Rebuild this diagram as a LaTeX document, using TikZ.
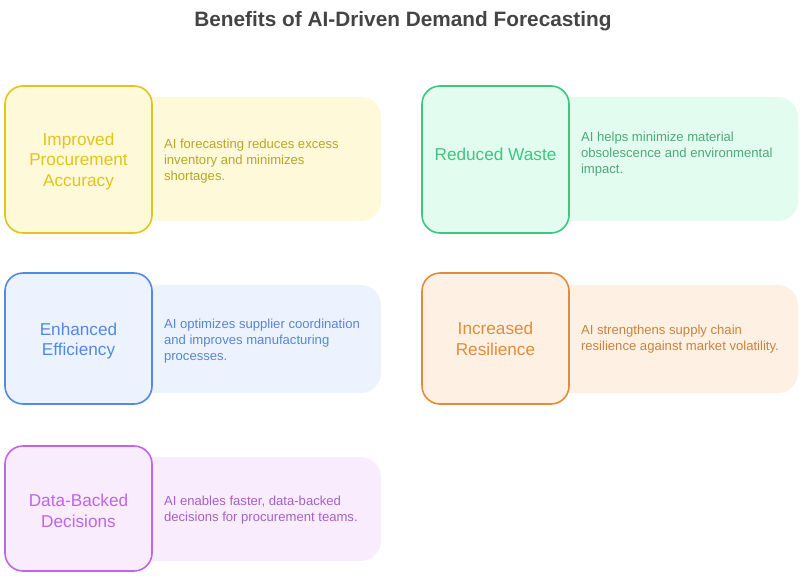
\documentclass[tikz,border=0pt]{standalone}
\usepackage{fontspec}
\setmainfont{Liberation Sans}
\definecolor{yB}{HTML}{E2C41C}\definecolor{yF}{HTML}{FEF9D8}\definecolor{yT}{HTML}{B9A52E}
\definecolor{gB}{HTML}{3EC57F}\definecolor{gF}{HTML}{E2FCEF}\definecolor{gT}{HTML}{4BAA7B}
\definecolor{bB}{HTML}{4F8AE6}\definecolor{bF}{HTML}{EDF3FE}\definecolor{bT}{HTML}{5686D6}
\definecolor{oB}{HTML}{E48B3B}\definecolor{oF}{HTML}{FEF1E4}\definecolor{oT}{HTML}{C9823F}
\definecolor{pB}{HTML}{C064E8}\definecolor{pF}{HTML}{F9EDFD}\definecolor{pT}{HTML}{A95EC9}
\definecolor{titleC}{HTML}{444444}
\tikzset{
  backbox/.style={rounded corners=20pt, draw=none},
  frontbox/.style={rounded corners=18pt, line width=1.6pt},
  frontlabel/.style={align=center, font=\fontsize{17.2}{20.7}\selectfont},
  desclabel/.style={align=left, anchor=west, font=\fontsize{13.1}{16}\selectfont},
}
\begin{document}
\begin{tikzpicture}[x=1pt,y=-1pt]
\useasboundingbox (0,0) rectangle (806,581);
\node[font=\bfseries\fontsize{20.8}{24}\selectfont, text=titleC] (title) at (403,21) {Benefits of AI-Driven Demand Forecasting};
% card 1
\fill[yF, backbox] (130,97) rectangle (381,221);
\draw[yB, fill=yF, frontbox] (5,86) rectangle (152,233);
\node[frontlabel, text=yB] (f1) at (78.5,161.5) {Improved\\Procurement\\Accuracy};
\node[desclabel, text=yT] (d1) at (160.5,161.5) {AI forecasting reduces excess\\inventory and minimizes\\shortages.};
% card 2
\fill[gF, backbox] (547,97) rectangle (798,221);
\draw[gB, fill=gF, frontbox] (422,86) rectangle (569,233);
\node[frontlabel, text=gB] (f2) at (495.5,154) {Reduced Waste};
\node[desclabel, text=gT] (d2) at (577.5,154) {AI helps minimize material\\obsolescence and environmental\\impact.};
% card 3
\fill[bF, backbox] (130,285) rectangle (381,393);
\draw[bB, fill=bF, frontbox] (5,273) rectangle (152,404);
\node[frontlabel, text=bB] (f3) at (78.5,341) {Enhanced\\Efficiency};
\node[desclabel, text=bT] (d3) at (160.5,341) {AI optimizes supplier coordination\\and improves manufacturing\\processes.};
% card 4
\fill[oF, backbox] (547,285) rectangle (798,393);
\draw[oB, fill=oF, frontbox] (422,273) rectangle (569,404);
\node[frontlabel, text=oB] (f4) at (495.5,339) {Increased\\Resilience};
\node[desclabel, text=oT] (d4) at (577.5,339) {AI strengthens supply chain\\resilience against market volatility.};
% card 5
\fill[pF, backbox] (130,457) rectangle (381,561);
\draw[pB, fill=pF, frontbox] (5,446) rectangle (152,571);
\node[frontlabel, text=pB] (f5) at (78.5,511) {Data-Backed\\Decisions};
\node[desclabel, text=pT] (d5) at (160.5,510) {AI enables faster, data-backed\\decisions for procurement teams.};
\end{tikzpicture}
\end{document}
